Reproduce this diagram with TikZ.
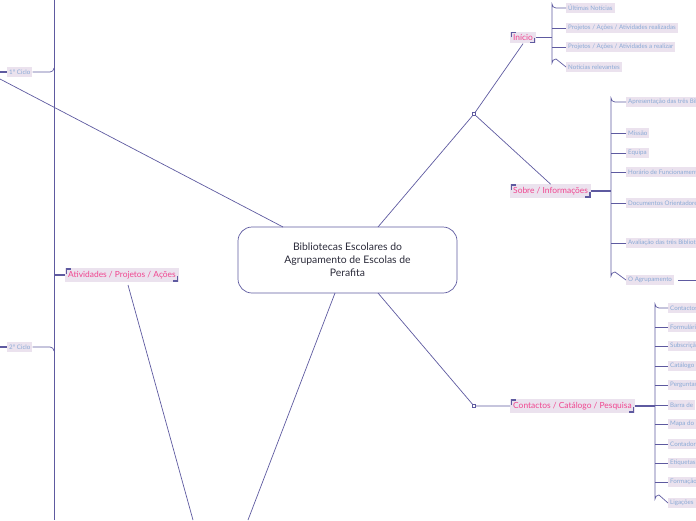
\documentclass[tikz,border=0pt]{standalone}
\usepackage{fontspec}
\setmainfont{Lato}
\definecolor{ln}{HTML}{5E5AA0}
\definecolor{lf}{HTML}{EBE2EE}
\definecolor{pk}{HTML}{F0458F}
\definecolor{lt}{HTML}{8AAAD6}
\definecolor{dk}{HTML}{2B2B3A}
\begin{document}
\begin{tikzpicture}[x=1pt,y=-1pt,
 conn/.style={draw=ln,line width=0.7pt},
 br/.style={draw=ln,line width=1.6pt},
 leaf/.style={fill=lf,text=lt,font=\fontsize{6.2}{7}\selectfont,inner xsep=2pt,inner ysep=2.5pt,anchor=west},
 topic/.style={fill=lf,text=pk,font=\fontsize{8.4}{9}\selectfont,inner xsep=3pt,inner ysep=2.8pt,anchor=west},
 sq/.style={draw=ln,fill=white,minimum size=3.5pt,inner sep=0pt,line width=0.6pt}]
\useasboundingbox (0,0) rectangle (696,520);
\clip (0,0) rectangle (696,520);
% central
\node[draw=ln,line width=0.7pt,rounded corners=14pt,minimum width=219pt,minimum height=66pt,align=center,text=dk,font=\fontsize{10.4}{13}\selectfont] (c) at (347.5,260) {Bibliotecas Escolares do\\Agrupamento de Escolas de\\Perafita};
% topics
\node[topic] (ini) at (510,37.5) {Início};
\node[topic] (sob) at (510,191) {Sobre / Informações};
\node[topic] (con) at (510,406) {Contactos / Catálogo / Pesquisa};
\node[topic] (ati) at (65,275) {Atividades / Projetos / Ações};
\foreach \n in {ini,sob,con,ati}{
 \draw[br] ([xshift=1.5pt,yshift=-6pt]\n.north west) |- ([xshift=6pt,yshift=-1pt]\n.north west);
 \draw[br] ([xshift=-1.5pt,yshift=6pt]\n.south east) |- ([xshift=-6pt,yshift=1pt]\n.south east);
}
\node[sq] (s1) at (474,114) {};
\node[sq] (s2) at (474,406) {};
\draw[conn] (378,227) -- (s1);
\draw[conn] (s1) -- (ini.south);
\draw[conn] (s1) -- (sob.north);
\draw[conn] (378,293) -- (s2) -- (con.west);
% Inicio leaves
\foreach \y/\t [count=\i] in {8/{Últimas Notícias},28/{Projetos / Ações / Atividades realizadas},47/{Projetos / Ações / Atividades  a realizar},67/{Notícias relevantes}}
 {\node[leaf] (i\i) at (566,\y) {\t};}
\draw[br,line width=1.2pt] (ini.east) -- (552,37.5);
\draw[conn] (i1.west) -- (556,8) arc(90:180:4) -- (552,63) arc(180:270:4) -- (i4.west);
\draw[conn] (552,28) -- (i2.west); \draw[conn] (552,47) -- (i3.west);
% Sobre leaves
\foreach \y/\t [count=\i] in {102/{Apresentação das três Bibliotecas},133/{Missão},153/{Equipa},172/{Horário de Funcionamento},203/{Documentos Orientadores},243/{Avaliação das três Bibliotecas},280/{O Agrupamento}}
 {\node[leaf] (o\i) at (626,\y) {\t};}
\draw[br,line width=1.2pt] (sob.east) -- (611,191);
\draw[conn] (o1.west) -- (615,102) arc(90:180:4) -- (611,276) arc(180:270:4) -- (o7.west);
\foreach \i/\y in {2/133,3/153,4/172,5/203,6/243}{\draw[conn] (611,\y) -- (o\i.west);}
\coordinate (oe) at (696,280);
\draw[conn] ([xshift=4pt]o7.east) -- (oe);
% Contactos leaves
\foreach \y/\t [count=\i] in {308/{Contactos},327/{Formulário},346/{Subscrição},366/{Catálogo},385/{Perguntas},405/{Barra de},424/{Mapa do},444/{Contador},463/{Etiquetas},482/{Formação},503/{Ligações}}
 {\node[leaf] (k\i) at (668,\y) {\t};}
\draw[br,line width=1.2pt] (con.east) -- (655,406);
\draw[conn] (k1.west) -- (659,308) arc(90:180:4) -- (655,499) arc(180:270:4) -- (k11.west);
\foreach \i/\y in {2/327,3/346,4/366,5/385,6/405,7/424,8/444,9/463,10/482}{\draw[conn] (655,\y) -- (k\i.west);}
% left
\node[leaf] (c1) at (7,72) {1º Ciclo};
\node[leaf] (c2) at (7,347) {2º Ciclo};
\coordinate (lt) at (54,0); \coordinate (lb) at (54,520);
\draw[conn] (lt) -- (lb);
\draw[conn] (c1.east) -- (50,72) arc(90:0:4);
\draw[conn] (c2.east) -- (50,347) arc(270:360:4);
\draw[br,line width=1.2pt] (0,72) -- (c1.west);
\draw[br,line width=1.2pt] (0,347) -- (c2.west);
\draw[br,line width=1.2pt] (54,275) -- (ati.west);
\draw[conn] (283,227) -- (0,79);
\draw[conn] (128,285) -- (193,520);
\draw[conn] (335,293) -- (248,520);
\end{tikzpicture}
\end{document}
